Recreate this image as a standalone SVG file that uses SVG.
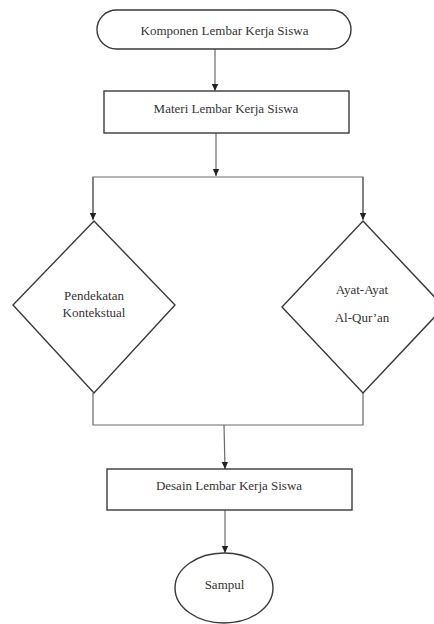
<svg xmlns="http://www.w3.org/2000/svg" width="434" height="624" viewBox="0 0 434 624">
<defs>
<marker id="ah" markerUnits="userSpaceOnUse" markerWidth="8" markerHeight="8" viewBox="0 0 8 8" refX="7" refY="4" orient="auto">
<path d="M0,0.8 L7,4 L0,7.2 Z" fill="#222"/>
</marker>
<style>
.shape{fill:#fff;stroke:#3a3a3a;stroke-width:1.4}
.conn{fill:none;stroke:#6a6a6a;stroke-width:1.2}
.lbl{font-family:"Liberation Serif","Times New Roman",serif;font-size:13px;fill:#333;text-anchor:middle}
</style>
</defs>
<rect width="434" height="624" fill="#fff"/>
<g id="connectors">
<line class="conn" x1="215" y1="49" x2="215" y2="91" marker-end="url(#ah)"/>
<line class="conn" x1="216" y1="133" x2="216" y2="176" marker-end="url(#ah)"/>
<polyline class="conn" points="93,219 93,177 363,177 363,219"/>
<line class="conn" x1="93" y1="177" x2="93" y2="220" marker-end="url(#ah)"/>
<line class="conn" x1="363" y1="177" x2="363" y2="220" marker-end="url(#ah)"/>
<polyline class="conn" points="93,393 93,425 363,425 363,393"/>
<line class="conn" x1="224" y1="425" x2="225" y2="469" marker-end="url(#ah)"/>
<line class="conn" x1="225" y1="510" x2="225" y2="553" marker-end="url(#ah)"/>
</g>
<g id="komponen">
<rect class="shape" x="97" y="10" width="254" height="39" rx="19.5" ry="19.5"/>
<text class="lbl" x="224.5" y="34.5">Komponen Lembar Kerja Siswa</text>
</g>
<g id="materi">
<rect class="shape" x="104" y="91" width="245" height="42"/>
<text class="lbl" x="226" y="112.5">Materi Lembar Kerja Siswa</text>
</g>
<g id="pendekatan">
<polygon class="shape" points="94,221 175,305 94,393 13,305"/>
<text class="lbl" x="94" y="299.5">Pendekatan</text>
<text class="lbl" x="94" y="316.5">Kontekstual</text>
</g>
<g id="ayat">
<polygon class="shape" points="363,221 444,307 363,393 282,307"/>
<text class="lbl" x="362" y="293.5">Ayat-Ayat</text>
<text class="lbl" x="362" y="321.5">Al-Qur’an</text>
</g>
<g id="desain">
<rect class="shape" x="107" y="469" width="245" height="41"/>
<text class="lbl" x="229" y="489.5">Desain Lembar Kerja Siswa</text>
</g>
<g id="sampul">
<ellipse class="shape" cx="224" cy="588" rx="49" ry="35"/>
<text class="lbl" x="224.5" y="588.5">Sampul</text>
</g>
</svg>
